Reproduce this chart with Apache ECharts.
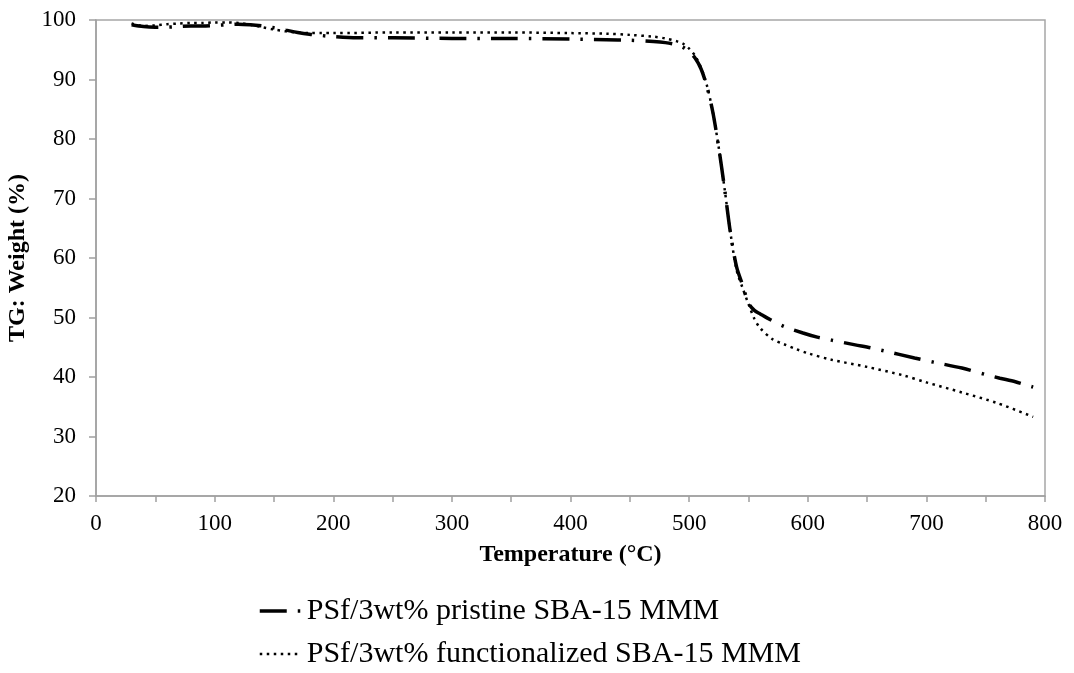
<!DOCTYPE html>
<html>
<head>
<meta charset="utf-8">
<script src="https://cdn.jsdelivr.net/npm/echarts@6/dist/echarts.min.js"></script>
<style>
html,body{margin:0;padding:0;background:#fff;}
#chart{width:1074px;height:673px;}
</style>
</head>
<body>
<div id="chart"></div>
<script>
// Temperatures (°C) and TG weight (%)
var tempPristine = [30,40,50,60,70,80,90,100,110,120,130,140,150,160,170,180,190,200,220,250,300,350,400,430,450,470,480,490,495,500,505,510,515,520,525,530,535,540,545,550,555,560,566,580,596,608,620,640,653,664,690,706,730,750,762,775,790];
var weightPristine = [99.2,98.9,98.8,98.8,98.9,99.0,99.0,99.1,99.2,99.3,99.2,99.0,98.7,98.3,97.9,97.6,97.4,97.2,97.0,97.0,96.9,96.9,96.8,96.7,96.6,96.4,96.2,95.8,95.4,94.7,93.6,91.8,88.8,84.5,78.5,71.5,64.0,58.5,55.5,52.4,51.2,50.6,49.9,48.5,47.4,46.7,46.2,45.4,44.9,44.4,43.2,42.5,41.5,40.4,39.8,39.2,38.3];

var tempFunc = [30,40,50,60,70,80,90,100,110,120,130,140,150,160,170,180,190,200,250,300,350,400,430,450,470,480,490,495,500,505,510,515,520,525,530,535,540,545,550,555,560,570,580,590,600,620,650,680,700,730,760,790];
var weightFunc = [99.4,99.0,99.1,99.3,99.4,99.5,99.5,99.6,99.6,99.5,99.2,98.8,98.4,98.1,97.9,97.8,97.8,97.8,97.9,97.9,97.9,97.8,97.7,97.5,97.2,96.9,96.4,96.0,95.2,94.0,92.0,89.0,84.5,78.5,71.5,64.0,58.0,55.0,52.3,49.8,48.2,46.4,45.5,44.7,44.0,42.9,41.7,40.3,39.1,37.4,35.6,33.3];

var seriesNames = ['PSf/3wt% pristine SBA-15 MMM', 'PSf/3wt% functionalized SBA-15 MMM'];
var xAxisName = 'Temperature (°C)';
var yAxisName = 'TG: Weight (%)';

function pairs(xs, ys){ return xs.map(function(x,i){ return [x, ys[i]]; }); }

var chart = echarts.init(document.getElementById('chart'), null, {renderer:'canvas'});
var font = '"Liberation Serif", "Times New Roman", serif';
chart.setOption({
  animation: false,
  backgroundColor: '#ffffff',
  textStyle: { fontFamily: font },
  grid: { left: 96, right: 29, top: 20, bottom: 177, show: true, borderColor: '#a6a6a6', borderWidth: 1.5,
          containLabel: false, outerBoundsMode: 'none' },
  xAxis: {
    type: 'value', min: 0, max: 800, interval: 100,
    name: xAxisName, nameLocation: 'middle', nameGap: 47,
    nameTextStyle: { fontFamily: font, fontWeight: 'bold', fontSize: 24, color: '#000' },
    axisLine: { show: true, lineStyle: { color: '#a0a0a0', width: 1.5 } },
    axisTick: { show: true, length: 6, lineStyle: { color: '#a0a0a0', width: 1.5 } },
    minorTick: { show: true, splitNumber: 2, length: 6, lineStyle: { color: '#a0a0a0', width: 1.5 } },
    axisLabel: { fontFamily: font, fontSize: 23, color: '#000', margin: 16 },
    splitLine: { show: false }
  },
  yAxis: {
    type: 'value', min: 20, max: 100, interval: 10,
    name: yAxisName, nameLocation: 'middle', nameGap: 66, nameRotate: 90,
    nameTextStyle: { fontFamily: font, fontWeight: 'bold', fontSize: 24, color: '#000' },
    axisLine: { show: true, lineStyle: { color: '#a0a0a0', width: 1.5 } },
    axisTick: { show: true, length: 7, lineStyle: { color: '#a0a0a0', width: 1.5 } },
    axisLabel: { fontFamily: font, fontSize: 23, color: '#000', margin: 20 },
    splitLine: { show: false }
  },
  legend: {
    orient: 'vertical', left: 258, top: 595, itemGap: 11, padding: 0,
    itemWidth: 42, itemHeight: 14,
    itemStyle: { opacity: 0 },
    lineStyle: { type: 'inherit', width: 'inherit', opacity: 1 },
    textStyle: { fontFamily: font, fontSize: 30, lineHeight: 32, color: '#000' },
    data: seriesNames
  },
  series: [
    {
      name: seriesNames[0], type: 'line', data: pairs(tempPristine, weightPristine),
      showSymbol: false, symbol: 'none', smooth: 0.3, color: '#000',
      lineStyle: { color: '#000', width: 3.5, type: [27, 11, 2.5, 11] }
    },
    {
      name: seriesNames[1], type: 'line', data: pairs(tempFunc, weightFunc),
      showSymbol: false, symbol: 'none', smooth: 0.3, color: '#000',
      lineStyle: { color: '#000', width: 2.5, type: [2.5, 4.5] }
    }
  ]
});
</script>
</body>
</html>
